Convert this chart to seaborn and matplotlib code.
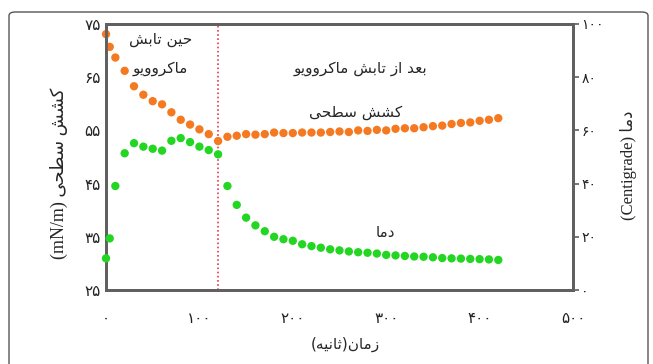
import matplotlib
matplotlib.use("Agg")
import matplotlib.pyplot as plt
import matplotlib.patches as mpatches
import seaborn as sns
import pandas as pd

# --- data ---
time_s = [0, 4, 10, 20, 30, 40, 50, 60, 70, 80, 90, 100, 110, 120,
          130, 140, 150, 160, 170, 180, 190, 200, 210, 220, 230, 240,
          250, 260, 270, 280, 290, 300, 310, 320, 330, 340, 350, 360,
          370, 380, 390, 400, 410, 420]
tension = [73.1, 70.7, 68.7, 66.2, 63.3, 61.7, 60.5, 59.9, 58.4, 57.0, 56.1, 55.2, 54.3, 53.0,
           53.8, 54.0, 54.3, 54.2, 54.3, 54.6, 54.5, 54.5, 54.6, 54.6, 54.6, 54.7,
           54.8, 54.7, 55.0, 54.9, 55.1, 55.0, 55.3, 55.4, 55.4, 55.6, 55.8, 55.9,
           56.2, 56.4, 56.5, 56.8, 57.0, 57.3]
temperature = [11.9, 19.4, 39.1, 51.4, 55.2, 53.9, 53.1, 52.4, 56.1, 57.1, 55.6, 53.9, 52.6, 51.0,
               39.1, 32.0, 27.2, 24.3, 22.1, 20.0, 19.1, 18.5, 17.2, 16.5, 15.9, 15.3,
               14.9, 14.5, 14.2, 14.0, 13.7, 13.2, 13.0, 12.8, 12.6, 12.5, 12.3, 12.0,
               11.9, 11.8, 11.7, 11.6, 11.5, 11.3]
switch_time = 120
x_ticks = [0, 100, 200, 300, 400, 500]
left_ticks = [25, 35, 45, 55, 65, 75]
right_ticks = [0, 20, 40, 60, 80, 100]

df = pd.DataFrame({"time": time_s, "tension": tension, "temp": temperature})

# --- Persian text: shape letters + put in visual order (matplotlib has no bidi) ---
FORMS = {
    'ا': ('\uFE8D', '\uFE8E', None, None),
    'ب': ('\uFE8F', '\uFE90', '\uFE91', '\uFE92'),
    'ت': ('\uFE95', '\uFE96', '\uFE97', '\uFE98'),
    'ث': ('\uFE99', '\uFE9A', '\uFE9B', '\uFE9C'),
    'ح': ('\uFEA1', '\uFEA2', '\uFEA3', '\uFEA4'),
    'د': ('\uFEA9', '\uFEAA', None, None),
    'ر': ('\uFEAD', '\uFEAE', None, None),
    'ز': ('\uFEAF', '\uFEB0', None, None),
    'س': ('\uFEB1', '\uFEB2', '\uFEB3', '\uFEB4'),
    'ش': ('\uFEB5', '\uFEB6', '\uFEB7', '\uFEB8'),
    'ط': ('\uFEC1', '\uFEC2', '\uFEC3', '\uFEC4'),
    'ع': ('\uFEC9', '\uFECA', '\uFECB', '\uFECC'),
    'م': ('\uFEE1', '\uFEE2', '\uFEE3', '\uFEE4'),
    'ن': ('\uFEE5', '\uFEE6', '\uFEE7', '\uFEE8'),
    'ه': ('\uFEE9', '\uFEEA', '\uFEEB', '\uFEEC'),
    'و': ('\uFEED', '\uFEEE', None, None),
    '\u06CC': ('\uFBFC', '\uFBFD', '\uFBFE', '\uFBFF'),
    '\u06A9': ('\uFB8E', '\uFB8F', '\uFB90', '\uFB91'),
}


def fa(text):
    text = text.replace('\u064A', '\u06CC').replace('\u0643', '\u06A9')
    out = []
    for i, c in enumerate(text):
        if c not in FORMS:
            out.append(c)
            continue
        prev = text[i - 1] if i > 0 else ''
        nxt = text[i + 1] if i < len(text) - 1 else ''
        p = prev in FORMS and FORMS[prev][2] is not None
        q = FORMS[c][2] is not None and nxt in FORMS
        iso, fin, ini, med = FORMS[c]
        out.append(med if p and q else fin if p else ini if q else iso)
    return ''.join(reversed(out)).translate(str.maketrans('()', ')('))


def fa_num(n):
    return str(n).translate(str.maketrans('0123456789', '۰۱۲۳۴۵۶۷۸۹'))


sns.set_style("white")
plt.rcParams['font.family'] = ['DejaVu Sans']
MIXED = ['Liberation Serif', 'DejaVu Sans']  # latin in serif, persian falls back

ORANGE = "#f47920"
GREEN = "#22d622"
SPINE = "#606060"

fig = plt.figure(figsize=(6.53, 3.64), dpi=100)
ax = fig.add_axes([106 / 653, 1 - 290 / 364, (573 - 106) / 653, (290 - 24) / 364])
ax2 = ax.twinx()

sns.scatterplot(data=df, x="time", y="tension", ax=ax, color=ORANGE, s=36,
                edgecolor="none", legend=False, clip_on=False, zorder=3)
sns.scatterplot(data=df, x="time", y="temp", ax=ax2, color=GREEN, s=36,
                edgecolor="none", legend=False, clip_on=False, zorder=3)

ax.axvline(switch_time, color="#e8384f", ls=(0, (1, 1.5)), lw=1.2, zorder=1)

ax.set_xlim(0, 500)
ax.set_ylim(25, 75)
ax2.set_ylim(0, 100)

ax.set_xticks(x_ticks)
ax.set_xticklabels([fa_num(v) for v in x_ticks])
ax.set_yticks(left_ticks)
ax.set_yticklabels([fa_num(v) for v in left_ticks])
ax2.set_yticks(right_ticks)
ax2.set_yticklabels([fa_num(v) for v in right_ticks])

ax.tick_params(axis="x", length=0, pad=15, labelsize=11, colors="#222222")
ax.tick_params(axis="y", length=0, pad=4, labelsize=11, colors="#222222")
ax2.tick_params(axis="y", length=4, width=1.2, direction="out", pad=2,
                labelsize=10, colors="#222222")
ax2.tick_params(axis="y", color=SPINE)

for a in (ax, ax2):
    for sp in a.spines.values():
        sp.set_visible(True)
        sp.set_color(SPINE)
        sp.set_linewidth(2)

ax.set_xlabel(fa("زمان(ثانیه)"), fontsize=11)
ax.xaxis.set_label_coords(0.512, -0.175)
ax.set_ylabel("(mN/m) " + fa("کشش سطحی"), fontsize=13, family=MIXED)
ax.yaxis.set_label_coords(-0.082, 0.44)
ax2.set_ylabel("(Centigrade) " + fa("دما"), fontsize=12, family=MIXED)
ax2.yaxis.set_label_coords(1.10, 0.47)

# annotations
ax.text(58, 72.0, fa("حین تابش"), ha="center", va="center", fontsize=11)
ax.text(58, 66.7, fa("ماکروویو"), ha="center", va="center", fontsize=11)
ax.text(272, 66.7, fa("بعد از تابش ماکروویو"), ha="center", va="center", fontsize=11)
ax.text(267, 58.3, fa("کشش سطحی"), ha="center", va="center", fontsize=11)
ax.text(299, 35.9, fa("دما"), ha="center", va="center", fontsize=11)

# outer frame around the whole figure
fig.patches.append(mpatches.FancyBboxPatch(
    (9 / 653, -0.05), (648 - 9) / 653, 1.05 - 12 / 364,
    boxstyle="round,pad=0,rounding_size=0.01", transform=fig.transFigure,
    fill=False, edgecolor="#555555", lw=1.0))

fig.savefig("out.png", dpi=100)
